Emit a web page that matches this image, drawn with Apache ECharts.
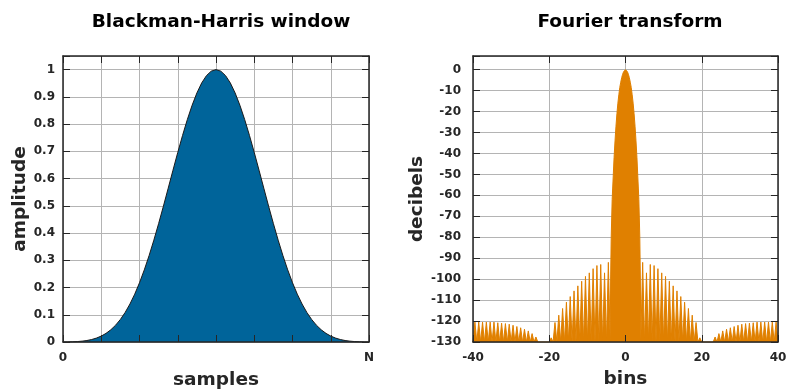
<!DOCTYPE html>
<html>
<head>
<meta charset="utf-8">
<script src="https://cdn.jsdelivr.net/npm/echarts@6/dist/echarts.min.js"></script>
<style>
  html, body { margin: 0; padding: 0; background: #fff; }
  #chart { width: 787px; height: 389px; }
</style>
</head>
<body>
<div id="chart"></div>
<script>
// window samples: position in eighths of N, amplitude
const windowX = [0, 0.125, 0.25, 0.375, 0.5, 0.625, 0.75, 0.875, 1, 1.125, 1.25, 1.375, 1.5, 1.625, 1.75, 1.875,
    2, 2.125, 2.25, 2.375, 2.5, 2.625, 2.75, 2.875, 3, 3.125, 3.25, 3.375, 3.5, 3.625, 3.75, 3.875,
    4, 4.125, 4.25, 4.375, 4.5, 4.625, 4.75, 4.875, 5, 5.125, 5.25, 5.375, 5.5, 5.625, 5.75, 5.875,
    6, 6.125, 6.25, 6.375, 6.5, 6.625, 6.75, 6.875, 7, 7.125, 7.25, 7.375, 7.5, 7.625, 7.75, 7.875, 8];
const windowAmp = [0, 0.0002, 0.0007, 0.0016, 0.0031, 0.0055, 0.0091, 0.0144, 0.0217, 0.0317, 0.0449, 0.0617, 0.0828, 0.1086, 0.1395, 0.1757,
    0.2175, 0.2647, 0.317, 0.374, 0.4349, 0.4988, 0.5645, 0.6307, 0.6958, 0.7583, 0.8165, 0.869, 0.9142, 0.9509, 0.9779, 0.9944,
    1.0, 0.9944, 0.9779, 0.9509, 0.9142, 0.869, 0.8165, 0.7583, 0.6958, 0.6307, 0.5645, 0.4988, 0.4349, 0.374, 0.317, 0.2647,
    0.2175, 0.1757, 0.1395, 0.1086, 0.0828, 0.0617, 0.0449, 0.0317, 0.0217, 0.0144, 0.0091, 0.0055, 0.0031, 0.0016, 0.0007, 0.0002, 0];

// main lobe of the transform
const mainBins = [-4, -3.9, -3.75, -3.5, -3, -2.75, -2.5, -2.25, -2, -1.75, -1.5, -1.25, -1, -0.75, -0.5, -0.25, 0,
    0.25, 0.5, 0.75, 1, 1.25, 1.5, 1.75, 2, 2.25, 2.5, 2.75, 3, 3.5, 3.75, 3.9, 4];
const mainDb = [-130, -100, -80, -62, -42, -34, -27, -21, -16, -12, -8.5, -6, -3.8, -2.2, -1, -0.3, 0,
    -0.3, -1, -2.2, -3.8, -6, -8.5, -12, -16, -21, -27, -34, -42, -62, -80, -100, -130];

// sidelobe peaks (one per bin)
const sideBins = [-39.5, -38.5, -37.5, -36.5, -35.5, -34.5, -33.5, -32.5, -31.5, -30.5, -29.5, -28.5, -27.5, -26.5, -25.5, -24.5, -23.5,
    -19.5, -18.5, -17.5, -16.5, -15.5, -14.5, -13.5, -12.5, -11.5, -10.5, -9.5, -8.5, -7.5, -6.5, -5.5, -4.5,
    4.5, 5.5, 6.5, 7.5, 8.5, 9.5, 10.5, 11.5, 12.5, 13.5, 14.5, 15.5, 16.5, 17.5, 18.5, 19.5,
    23.5, 24.5, 25.5, 26.5, 27.5, 28.5, 29.5, 30.5, 31.5, 32.5, 33.5, 34.5, 35.5, 36.5, 37.5, 38.5, 39.5];
const sideDb = [-120.5, -120.5, -120.5, -120.5, -120.5, -120.5, -120.8, -121, -121.2, -121.5, -122, -122.6, -123.2, -123.9, -124.7, -126, -127.6,
    -128, -120.7, -117.2, -114, -111, -108.3, -105.6, -103.2, -101, -98.7, -97, -95, -93.5, -93, -97, -92,
    -92, -97, -93, -93.5, -95, -97, -98.7, -101, -103.2, -105.6, -108.3, -111, -114, -117.2, -120.7, -128,
    -127.6, -126, -124.7, -123.9, -123.2, -122.6, -122, -121.5, -121.2, -121, -120.8, -120.5, -120.5, -120.5, -120.5, -120.5, -120.5];
const FLOOR = -130;

const xTicksLeft = { 0: '0', 8: 'N' };

const chart = echarts.init(document.getElementById('chart'));

const pts = [];
mainBins.forEach((b, i) => pts.push([b, mainDb[i]]));
sideBins.forEach((b, i) => {
    pts.push([b - 0.5, FLOOR]);
    pts.push([b, sideDb[i]]);
    pts.push([b + 0.5, FLOOR]);
});
pts.sort((a, b) => a[0] - b[0]);

const FONT = 'DejaVu Sans';
const lbl = { fontFamily: FONT, fontWeight: 'bold', fontSize: 12, color: '#262626' };
const nameStyle = { fontFamily: FONT, fontWeight: 'bold', fontSize: 18.5, color: '#262626' };
const titleStyle = { fontFamily: FONT, fontWeight: 'bold', fontSize: 18.5, color: '#000' };
const gridLine = { show: true, lineStyle: { color: '#b4b4b4', width: 1 } };
const frame = { show: true, onZero: false, lineStyle: { color: '#262626', width: 1.5 } };
const tick = { show: true, inside: true, length: 7, lineStyle: { color: '#262626', width: 1 } };

// overlay axis: draws frame edge and ticks above the fill
function overlay(gi, pos, min, max, interval) {
    return {
        type: 'value', gridIndex: gi, position: pos, min, max, interval, z: 10,
        axisLine: frame, axisTick: tick, axisLabel: { show: false }, splitLine: { show: false }
    };
}

const option = {
    animation: false,
    title: [
        { text: 'Blackman-Harris window', left: 216, top: 8, textAlign: 'center', textStyle: titleStyle },
        { text: 'Fourier transform', left: 625, top: 8, textAlign: 'center', textStyle: titleStyle }
    ],
    grid: [
        { left: 63, top: 56, width: 306, height: 286, outerBoundsMode: 'none', containLabel: false },
        { left: 473, top: 56, width: 305, height: 286, outerBoundsMode: 'none', containLabel: false }
    ],
    xAxis: [
        {
            type: 'value', gridIndex: 0, min: 0, max: 8, interval: 1,
            name: 'samples', nameLocation: 'middle', nameGap: 29, nameTextStyle: nameStyle,
            axisLine: { show: false, onZero: false }, axisTick: { show: false }, splitLine: gridLine,
            axisLabel: Object.assign({ margin: 10, formatter: v => xTicksLeft[v] || '' }, lbl)
        },
        overlay(0, 'bottom', 0, 8, 1),
        overlay(0, 'top', 0, 8, 1),
        {
            type: 'value', gridIndex: 1, min: -40, max: 40, interval: 20,
            name: 'bins', nameLocation: 'middle', nameGap: 28, nameTextStyle: nameStyle,
            axisLine: { show: false, onZero: false }, axisTick: { show: false }, splitLine: gridLine,
            axisLabel: Object.assign({ margin: 10 }, lbl)
        },
        overlay(1, 'bottom', -40, 40, 20),
        overlay(1, 'top', -40, 40, 20)
    ],
    yAxis: [
        {
            type: 'value', gridIndex: 0, min: 0, max: 1.05, interval: 0.1,
            name: 'amplitude', nameLocation: 'middle', nameGap: 30, nameTextStyle: nameStyle,
            axisLine: { show: false, onZero: false }, axisTick: { show: false }, splitLine: gridLine,
            axisLabel: Object.assign({ margin: 8, formatter: v => v > 1.001 ? '' : String(parseFloat(v.toFixed(1))) }, lbl)
        },
        overlay(0, 'left', 0, 1.05, 0.1),
        overlay(0, 'right', 0, 1.05, 0.1),
        {
            type: 'value', gridIndex: 1, min: -130, max: 6.5, interval: 10,
            name: 'decibels', nameLocation: 'middle', nameGap: 39, nameTextStyle: nameStyle,
            axisLine: { show: false, onZero: false }, axisTick: { show: false }, splitLine: gridLine,
            axisLabel: Object.assign({ margin: 12, formatter: v => v > 0.5 ? '' : String(v) }, lbl)
        },
        overlay(1, 'left', -130, 6.5, 10),
        overlay(1, 'right', -130, 6.5, 10)
    ],
    series: [
        {
            type: 'line', xAxisIndex: 0, yAxisIndex: 0, smooth: false, symbol: 'none',
            data: windowX.map((x, i) => [x, windowAmp[i]]),
            lineStyle: { color: '#1a1a1a', width: 1 },
            areaStyle: { color: '#00649a', opacity: 1 }
        },
        {
            type: 'line', xAxisIndex: 3, yAxisIndex: 3, symbol: 'none',
            data: pts,
            lineStyle: { color: '#e08000', width: 1 },
            areaStyle: { color: '#e08000', opacity: 1, origin: 'start' }
        }
    ]
};

chart.setOption(option);
</script>
</body>
</html>
